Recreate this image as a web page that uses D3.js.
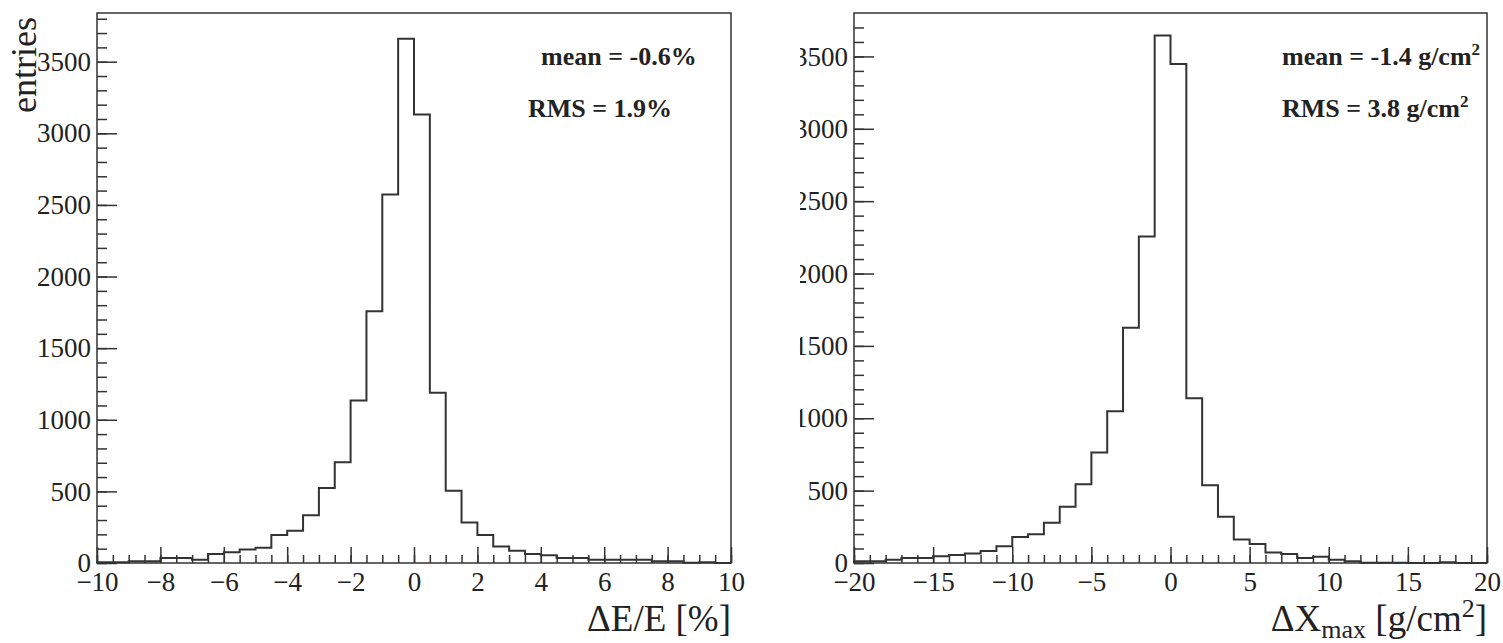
<!DOCTYPE html>
<html>
<head>
<meta charset="utf-8">
<script src="https://cdn.jsdelivr.net/npm/d3@7"></script>
<style>
  body { margin: 0; background: #fff; }
  text { font-family: "Liberation Serif", "Times New Roman", serif; fill: #222; }
</style>
</head>
<body>
<svg id="chart"></svg>
<script>
// bin counts
const energyEdges = [-10, 10];          // ΔE/E [%], 40 bins of 0.5
const energyCounts = [5, 5, 12, 12, 35, 35, 23, 63, 75, 94, 106, 195, 225, 333, 523, 704,
  1134, 1757, 2572, 3660, 3131, 1188, 505, 282, 195, 115, 85, 63, 54, 35, 35, 23, 23, 23, 23,
  12, 12, 2, 5, 0];
const xmaxEdges = [-20, 20];            // ΔXmax [g/cm2], 40 bins of 1
const xmaxCounts = [12, 12, 23, 35, 35, 46, 56, 65, 83, 116, 180, 199, 278, 389, 544, 764,
  1049, 1625, 2255, 3644, 3447, 1138, 537, 319, 162, 132, 72, 63, 35, 44, 23, 12, 2, 2, 2,
  0, 0, 5, 0, 0];

const energyTicks = [-10, -8, -6, -4, -2, 0, 2, 4, 6, 8, 10];
const xmaxTicks = [-20, -15, -10, -5, 0, 5, 10, 15, 20];
const countTicks = [0, 500, 1000, 1500, 2000, 2500, 3000, 3500];

const WIDTH = 1503;
const HEIGHT = 643;
const TOP = 13;
const BOTTOM = 563;

const svg = d3.select("#chart").attr("width", WIDTH).attr("height", HEIGHT);

function drawPanel(opts) {
  const { left, right, edges, counts, yMax, majorTicks, minorStep, clipLeft } = opts;
  const g = svg.append("g");

  if (clipLeft != null) {
    const id = "clip" + left;
    svg.append("clipPath").attr("id", id)
      .append("rect").attr("x", clipLeft).attr("y", 0)
      .attr("width", WIDTH - clipLeft).attr("height", HEIGHT);
    g.attr("clip-path", `url(#${id})`);
  }

  const x = d3.scaleLinear().domain(edges).range([left, right]);
  const y = d3.scaleLinear().domain([0, yMax]).range([BOTTOM, TOP]);
  const binW = (edges[1] - edges[0]) / counts.length;

  // minor ticks
  const minorX = d3.range(edges[0], edges[1] + 1e-9, minorStep);
  g.append("g")
    .attr("transform", `translate(0,${BOTTOM})`)
    .call(d3.axisBottom(x).tickValues(minorX).tickSize(-8).tickSizeOuter(0).tickFormat(""));
  g.append("g")
    .attr("transform", `translate(${left},0)`)
    .call(d3.axisLeft(y).tickValues(d3.range(0, yMax, 100)).tickSize(-10).tickSizeOuter(0).tickFormat(""));

  // major ticks + labels
  g.append("g")
    .attr("class", "xAxis")
    .attr("transform", `translate(0,${BOTTOM})`)
    .call(d3.axisBottom(x).tickValues(majorTicks).tickSize(-16).tickSizeOuter(0).tickPadding(9)
      .tickFormat((d) => (d < 0 ? "\u2212" + Math.abs(d) : d)));
  g.append("g")
    .attr("class", "yAxis")
    .attr("transform", `translate(${left},0)`)
    .call(d3.axisLeft(y).tickValues(countTicks).tickSize(-20).tickSizeOuter(0).tickPadding(6)
      .tickFormat(d3.format("d")));

  g.selectAll(".domain").remove();
  g.selectAll(".tick line").attr("stroke", "#333").attr("stroke-width", 1.5);
  g.selectAll(".tick text").style("font-size", "27px").attr("fill", "#222");

  // frame
  g.append("rect")
    .attr("x", left).attr("y", TOP)
    .attr("width", right - left).attr("height", BOTTOM - TOP)
    .attr("fill", "none").attr("stroke", "#333").attr("stroke-width", 1.5);

  // histogram outline
  const pts = [[edges[0], 0]];
  counts.forEach((c, i) => {
    pts.push([edges[0] + i * binW, c]);
    pts.push([edges[0] + (i + 1) * binW, c]);
  });
  pts.push([edges[1], 0]);

  g.append("path")
    .datum(pts)
    .attr("fill", "none")
    .attr("stroke", "#333")
    .attr("stroke-width", 2)
    .attr("d", d3.line().x((d) => x(d[0])).y((d) => y(d[1])));

  return g;
}

drawPanel({
  left: 97, right: 731, edges: energyEdges, counts: energyCounts,
  yMax: 3840, majorTicks: energyTicks, minorStep: 0.5,
});
drawPanel({
  left: 854, right: 1487, edges: xmaxEdges, counts: xmaxCounts,
  yMax: 3800, majorTicks: xmaxTicks, minorStep: 1, clipLeft: 800,
});

// axis titles
svg.append("text")
  .attr("transform", "translate(36,17) rotate(-90)")
  .attr("text-anchor", "end")
  .style("font-size", "36px")
  .text("entries");

svg.append("text")
  .attr("x", 731).attr("y", 631)
  .attr("text-anchor", "end")
  .style("font-size", "37px")
  .text("\u0394E/E [%]");

const xt = svg.append("text")
  .attr("x", 1487).attr("y", 631)
  .attr("text-anchor", "end")
  .style("font-size", "37px");
xt.append("tspan").text("\u0394X");
xt.append("tspan").attr("dy", 7).style("font-size", "26px").text("max");
xt.append("tspan").attr("dy", -7).text(" [g/cm");
xt.append("tspan").attr("dy", -14).style("font-size", "26px").text("2");
xt.append("tspan").attr("dy", 14).text("]");

// stats boxes
function stat(xp, yp, label, unitSup) {
  const t = svg.append("text")
    .attr("x", xp).attr("y", yp)
    .style("font-size", "26px").style("font-weight", "bold");
  t.append("tspan").text(label);
  if (unitSup) {
    t.append("tspan").attr("dy", -10).style("font-size", "17px").text("2");
  }
}
stat(541, 65, "mean = -0.6%");
stat(528, 117, "RMS = 1.9%");
stat(1282, 65, "mean = -1.4 g/cm", true);
stat(1282, 117, "RMS = 3.8 g/cm", true);
</script>
</body>
</html>
